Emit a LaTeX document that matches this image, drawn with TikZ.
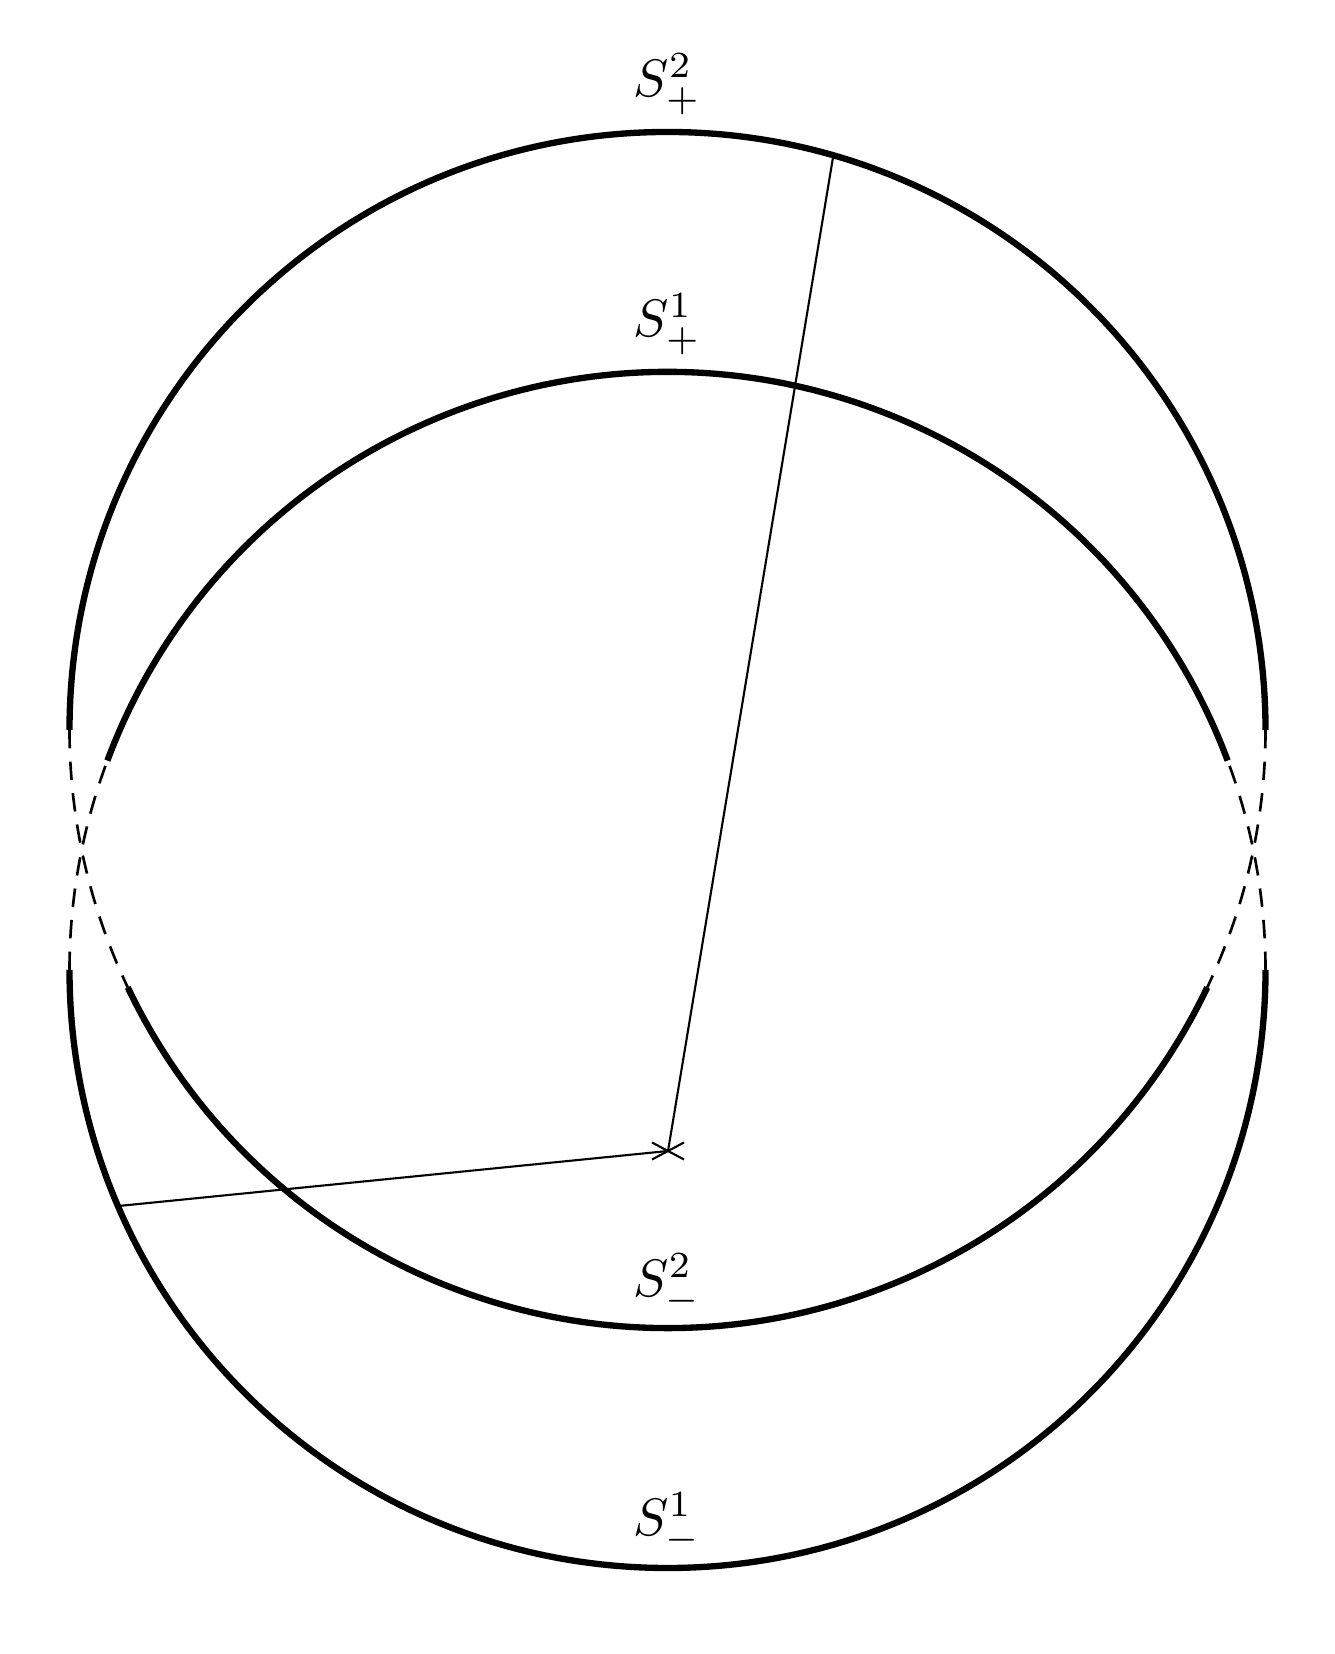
\documentclass[tikz,border=0pt]{standalone}
\begin{document}
\begin{tikzpicture}[x=0.0666667mm,y=0.0666667mm,
  solidarc/.style={line width=1.2pt},
  dasharc/.style={line width=0.5pt,dash pattern=on 3.5pt off 2.5pt},
  radial/.style={line width=0.4pt}]
\useasboundingbox (0,0) rectangle (1334,1654);
\coordinate (A) at (667.5,924);
\coordinate (B) at (667.5,684);
\coordinate (C) at (668,503);
% circle S^2 (upper centre)
\draw[solidarc] ([shift={(A)}]0:598) arc[start angle=0,end angle=180,radius=598];
\draw[dasharc] ([shift={(A)}]180:598) arc[start angle=180,end angle=205.5,radius=598];
\draw[solidarc] ([shift={(A)}]205.5:598) arc[start angle=205.5,end angle=334.5,radius=598];
\draw[dasharc] ([shift={(A)}]0:598) arc[start angle=0,end angle=-25.5,radius=598];
% circle S^1 (lower centre)
\draw[solidarc] ([shift={(B)}]180:598) arc[start angle=180,end angle=360,radius=598];
\draw[dasharc] ([shift={(B)}]180:598) arc[start angle=180,end angle=159.5,radius=598];
\draw[solidarc] ([shift={(B)}]159.5:598) arc[start angle=159.5,end angle=20.5,radius=598];
\draw[dasharc] ([shift={(B)}]0:598) arc[start angle=0,end angle=20.5,radius=598];
% radial lines
\coordinate (P) at ([shift={(A)}]73.9:598);
\coordinate (Q) at ([shift={(B)}]203.25:598);
\draw[radial] (P) -- (C) -- (Q);
% cross
\coordinate (C1) at ([shift={(-16,8.5)}]C);
\coordinate (C2) at ([shift={(16,-8.5)}]C);
\coordinate (C3) at ([shift={(-16,-8.5)}]C);
\coordinate (C4) at ([shift={(16,8.5)}]C);
\draw[radial] (C1) -- (C2);
\draw[radial] (C3) -- (C4);
% labels
\node[anchor=base] (sp2) at (667.5,1557) {$S^2_+$};
\node[anchor=base] (sp1) at (667.5,1317) {$S^1_+$};
\node[anchor=base] (sm2) at (667.5,357) {$S^2_-$};
\node[anchor=base] (sm1) at (667.5,118) {$S^1_-$};
\end{tikzpicture}
\end{document}
